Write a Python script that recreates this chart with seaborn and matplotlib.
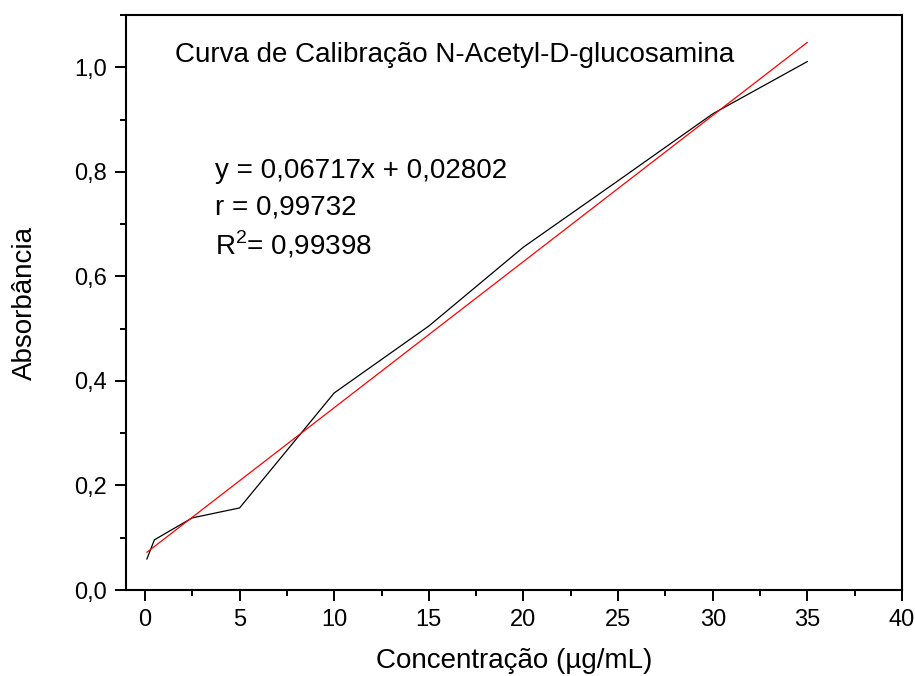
import numpy as np
import pandas as pd
import matplotlib
matplotlib.use("Agg")
import matplotlib.pyplot as plt
import seaborn as sns
from matplotlib.ticker import MultipleLocator, FuncFormatter

# calibration data
concentracao = [0.1, 0.5, 2.5, 5, 10, 15, 20, 25, 30, 35]
absorbancia = [0.059, 0.096, 0.138, 0.157, 0.377, 0.505, 0.656, 0.783, 0.911, 1.011]
x_ticks = [0, 5, 10, 15, 20, 25, 30, 35, 40]
y_ticks = [0.0, 0.2, 0.4, 0.6, 0.8, 1.0]
eq_lines = ["y = 0,06717x + 0,02802", "r = 0,99732", "R$^{2}$= 0,99398"]

sns.set_style("ticks")
plt.rcParams['font.family'] = ['Liberation Sans', 'DejaVu Sans']
plt.rcParams['mathtext.fontset'] = 'custom'
plt.rcParams['mathtext.rm'] = 'Liberation Sans'
plt.rcParams['text.color'] = 'black'
plt.rcParams['axes.labelcolor'] = 'black'
plt.rcParams['xtick.color'] = 'black'
plt.rcParams['ytick.color'] = 'black'

df = pd.DataFrame({'x': concentracao, 'y': absorbancia})

# linear fit for the red line
slope, intercept = np.polyfit(df['x'], df['y'], 1)
fit = pd.DataFrame({'x': [df['x'].min(), df['x'].max()]})
fit['y'] = slope * fit['x'] + intercept

fig = plt.figure(figsize=(9.15, 6.76), dpi=100)
ax = fig.add_axes([0.1377, 0.1272, 0.8481, 0.8506])

sns.lineplot(data=df, x='x', y='y', color='black', linewidth=0.9, ax=ax)
sns.lineplot(data=fit, x='x', y='y', color='red', linewidth=0.9, ax=ax)

ax.set_xlim(-1, 40)
ax.set_ylim(0, 1.1)
ax.set_xticks(x_ticks)
ax.set_yticks(y_ticks)
ax.xaxis.set_minor_locator(MultipleLocator(2.5))
ax.yaxis.set_minor_locator(MultipleLocator(0.1))
ax.yaxis.set_major_formatter(FuncFormatter(lambda v, p: f"{v:.1f}".replace('.', ',')))
ax.tick_params(which='major', direction='out', length=8, width=1.4, labelsize=17, pad=6)
ax.tick_params(which='minor', direction='out', length=4.5, width=1.4)

for s in ax.spines.values():
    s.set_visible(True)
    s.set_linewidth(1.5)
    s.set_color('black')

ax.set_xlabel("Concentração (µg/mL)", fontsize=20, labelpad=12)
ax.set_ylabel("Absorbância", fontsize=20, labelpad=26)

ax.text(1.6, 1.023, "Curva de Calibração N-Acetyl-D-glucosamina", fontsize=20, va='center')
for i, line in enumerate(eq_lines):
    ax.text(3.7, 0.801 - i * 0.07, line, fontsize=20, va='center')

plt.savefig('out.png', dpi=100)
plt.close()
